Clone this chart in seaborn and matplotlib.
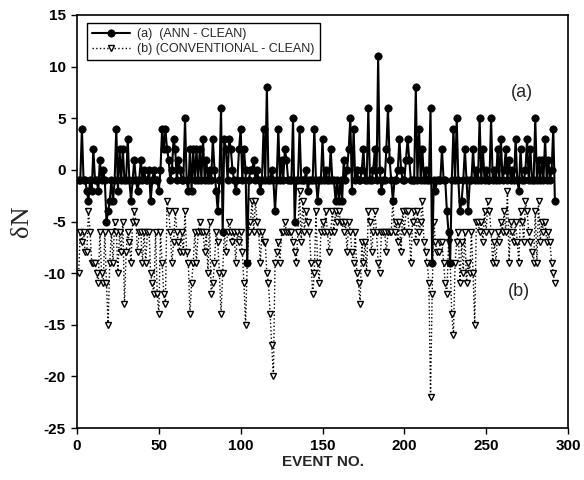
import matplotlib
matplotlib.use("Agg")
import matplotlib.pyplot as plt
import pandas as pd
import seaborn as sns

# ---------------- data ----------------
event = list(range(1, 293))

ann_clean = [
    -1, -1, 4, -1, -1, -2, -3, -1, -2, 2,
    -1, -1, -2, 1, -1, 0, -1, -5, -4, -3,
    -1, -3, -1, 4, -2, 2, -1, 2, -1, -1,
    3, -1, -3, -1, 1, -1, -2, -1, 1, -1,
    0, -1, -1, 0, -3, -1, 0, -1, -1, -2,
    0, 4, 2, 4, 2, 1, -1, 0, 3, 2,
    -1, 1, 0, -1, -1, 5, -1, -2, 2, -2,
    2, -1, 2, -1, 2, -1, 3, -1, 1, -1,
    0, -1, 3, 0, -2, -4, -1, 6, -6, 3,
    2, -1, 3, 2, 0, -1, -2, -1, 2, 4,
    -1, 2, 0, -9, -1, 0, 0, 1, -1, 0,
    -1, -2, -1, 4, -1, 8, -1, -1, 0, -1,
    -4, -1, 4, -1, 1, -1, 2, 1, -1, -1,
    -1, 5, -5, -1, -1, 4, -1, -1, -1, 0,
    -2, -1, -1, -1, 4, -1, -3, -1, -1, 3,
    -1, 0, -1, -1, 2, -1, -1, -3, -1, -3,
    -1, -3, 1, -1, 0, 2, 5, -2, 4, -1,
    0, -1, -1, 0, 2, -1, -1, 6, -1, -1,
    0, 2, -1, 11, 0, -2, -1, -1, 2, 6,
    1, -1, -3, -1, -1, 0, 3, 0, -1, -1,
    1, 3, 1, -1, -1, -1, 8, -1, 4, -1,
    2, -1, 0, -1, -1, 6, -9, -1, -2, -1,
    -1, -1, 2, -1, -1, -4, -6, -9, -1, 4,
    -1, 5, -1, -4, -3, -1, 2, -1, -4, -1,
    -1, 2, -1, 0, -1, 5, -1, 2, -1, 0,
    -1, -1, 5, -1, 0, -1, 2, -1, 3, -1,
    0, 2, -1, 1, -1, 0, -1, 3, -1, -2,
    2, -1, -1, 0, 3, -1, 2, -1, -1, 5,
    -1, 1, -1, 1, -1, 3, -1, 1, -1, 0,
    4, -3,
]

conv_clean = [
    -10, -6, -7, -6, -8, -8, -4, -6, -9, -9,
    -9, -10, -11, -6, -10, -11, -6, -11, -15, -9,
    -6, -9, -5, -6, -10, -6, -8, -5, -13, -8,
    -6, -7, -9, -5, -4, -5, -8, -6, -6, -9,
    -6, -9, -6, -6, -10, -11, -12, -6, -12, -14,
    -6, -9, -12, -13, -3, -4, -6, -9, -7, -4,
    -6, -7, -8, -6, -8, -4, -8, -9, -14, -11,
    -9, -6, -9, -6, -5, -6, -6, -8, -6, -10,
    -5, -12, -11, -9, -6, -7, -10, -14, -10, -6,
    -8, -6, -5, -6, -7, -6, -9, -6, -7, -6,
    -8, -11, -15, -9, -6, -5, -3, -6, -3, -5,
    -6, -9, -6, -7, -7, -10, -11, -14, -17, -20,
    -9, -8, -7, -9, -6, -6, -5, -6, -6, -6,
    -6, -7, -8, -9, -6, -2, -7, -3, -6, -4,
    -5, -6, -9, -12, -10, -4, -9, -11, -6, -5,
    -6, -4, -6, -8, -6, -4, -6, -4, -5, -4,
    -5, -5, -6, -5, -8, -5, -6, -8, -9, -6,
    -10, -11, -13, -7, -9, -7, -10, -4, -5, -8,
    -6, -4, -6, -9, -10, -6, -6, -6, -8, -6,
    -6, -6, -3, -6, -5, -7, -5, -8, -4, -6,
    -4, -4, -6, -9, -5, -4, -7, -4, -6, -5,
    -3, -7, -8, -9, -11, -22, -12, -5, -7, -8,
    -8, -7, -7, -9, -11, -12, -7, -9, -14, -16,
    -9, -7, -6, -11, -7, -10, -6, -11, -9, -10,
    -6, -10, -15, -5, -5, -6, -5, -7, -4, -6,
    -3, -4, -6, -9, -7, -9, -6, -7, -5, -6,
    -4, -6, -2, -9, -5, -6, -7, -5, -7, -9,
    -4, -5, -7, -3, -4, -6, -7, -8, -9, -4,
    -9, -3, -7, -5, -6, -5, -7, -6, -7, -9,
    -10, -11,
]

series_labels = ["(a)  (ANN - CLEAN)", "(b) (CONVENTIONAL - CLEAN)"]
x_ticks = [0, 50, 100, 150, 200, 250, 300]
y_ticks = [-25, -20, -15, -10, -5, 0, 5, 10, 15]

# ---------------- plotting ----------------
sns.set_style("ticks")
plt.rcParams["font.family"] = ["Liberation Sans", "DejaVu Sans"]

fig = plt.figure(figsize=(5.84, 4.8), dpi=100)
ax = fig.add_axes([77 / 584, 1 - 428 / 480, (568 - 77) / 584, (428 - 15) / 480])

df_a = pd.DataFrame({"event": event, "dN": ann_clean})
df_b = pd.DataFrame({"event": event, "dN": conv_clean})

sns.lineplot(data=df_b, x="event", y="dN", ax=ax, color="black",
             linestyle=":", linewidth=1.0, marker="v", markersize=5,
             markerfacecolor="white", markeredgecolor="black",
             markeredgewidth=1.0, label=series_labels[1], zorder=2)
sns.lineplot(data=df_a, x="event", y="dN", ax=ax, color="black",
             linestyle="-", linewidth=1.5, marker="o", markersize=5.3,
             markerfacecolor="black", markeredgecolor="black",
             markeredgewidth=0.5, label=series_labels[0], zorder=3)

ax.set_xlim(0, 300)
ax.set_ylim(-25, 15)
ax.set_xticks(x_ticks)
ax.set_yticks(y_ticks)
ax.set_xticklabels([str(t) for t in x_ticks], fontweight="bold", fontsize=11)
ax.set_yticklabels([str(t) for t in y_ticks], fontweight="bold", fontsize=11)
ax.tick_params(direction="out", length=4, width=1, colors="black", pad=4)
for s in ax.spines.values():
    s.set_visible(True)
    s.set_linewidth(1.2)
    s.set_color("black")

ax.set_xlabel("EVENT NO.", fontweight="bold", fontsize=11, labelpad=1)
ax.set_ylabel("δN", family=["Liberation Serif", "DejaVu Serif"], fontsize=19, labelpad=8)

handles, labels = ax.get_legend_handles_labels()
order = [labels.index(series_labels[0]), labels.index(series_labels[1])]
leg = ax.legend([handles[i] for i in order], [labels[i] for i in order],
                loc="upper left", bbox_to_anchor=(0.008, 0.995), fontsize=9,
                frameon=True, fancybox=False, framealpha=1, edgecolor="black",
                handlelength=3, borderpad=0.4, labelspacing=0.25, handletextpad=0.6)
leg.get_frame().set_linewidth(1.0)

ax.text(272, 7.5, "(a)", fontsize=13, ha="center", va="center")
ax.text(270, -11.8, "(b)", fontsize=13, ha="center", va="center")

fig.savefig("out.png", dpi=100, facecolor="white")
